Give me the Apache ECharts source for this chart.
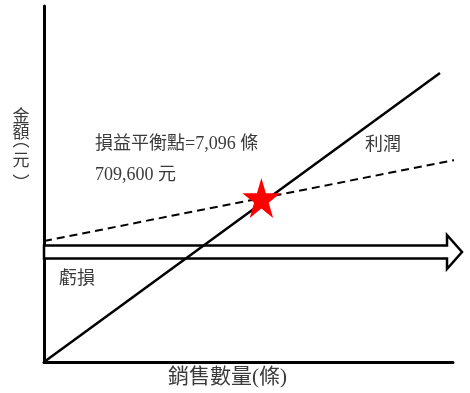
<!DOCTYPE html>
<html>
<head>
<meta charset="utf-8">
<script src="https://cdn.jsdelivr.net/npm/echarts@6/dist/echarts.min.js"></script>
<style>html,body{margin:0;padding:0;background:#fff}#c{width:470px;height:393px}</style>
</head>
<body>
<div id="c"></div>
<script>
// Data (quantity in 條, amount in 元)
const xRange = [0, 13350];
const yRange = [0, 1540000];
const revenueLine = [[0, 0], [12925, 1250000]];
const costLine = [[0, 523400], [13905, 886800]];
const fixedArrow = [[0, 476000, 13644]]; // [startX, y, tipX]
const breakEven = [[7096, 709600]];
const yNameChars = ['金', '額', '︵', '元', '︶'];
const texts = {
  xName: '銷售數量(條)',
  be1: '損益平衡點=7,096 條',
  be2: '709,600 元',
  profit: '利潤',
  loss: '虧損'
};

const chart = echarts.init(document.getElementById('c'));
const FONT = '"Liberation Serif", "Noto Sans CJK TC", serif';
const TXT = '#3a3a3a';
const starPath = 'path://M50,0 L61.2,34.5 L97.6,34.5 L68.2,55.9 L79.4,90.5 L50,69.1 L20.6,90.5 L31.8,55.9 L2.4,34.5 L38.8,34.5 Z';

function txt(text, x, y, size) {
  return { type: 'text', x: x, y: y, style: { text: text, fontSize: size, fontFamily: FONT, fill: TXT } };
}

// vertical axis name: characters stacked
const yNameCenters = [115.5, 132, 140, 159.5, 183];
const graphics = yNameChars.map(function (c, i) {
  return { type: 'text', x: 21, y: yNameCenters[i],
    style: { text: c, fontSize: 17, fontFamily: '"Noto Sans CJK TC"', fill: TXT, align: 'center', verticalAlign: 'middle' } };
});
graphics.push(
  txt(texts.xName, 168, 367, 21),
  txt(texts.be1, 95, 135, 18),
  txt(texts.be2, 95, 166, 18),
  txt(texts.profit, 365, 136, 18),
  txt(texts.loss, 59, 270, 18)
);

chart.setOption({
  animation: false,
  grid: { left: 44, top: 6, right: 17, bottom: 31 },
  xAxis: {
    type: 'value', min: xRange[0], max: xRange[1],
    axisLine: { show: true, lineStyle: { color: '#000', width: 3 } },
    axisTick: { show: false }, axisLabel: { show: false }, splitLine: { show: false }
  },
  yAxis: {
    type: 'value', min: yRange[0], max: yRange[1],
    axisLine: { show: true, lineStyle: { color: '#000', width: 3 } },
    axisTick: { show: false }, axisLabel: { show: false }, splitLine: { show: false }
  },
  series: [
    {
      type: 'custom', clip: false, z: 2,
      data: fixedArrow,
      renderItem: function (params, api) {
        const p0 = api.coord([api.value(0), api.value(1)]);
        const p1 = api.coord([api.value(2), api.value(1)]);
        const y = p0[1], h = 6.5, H = 17, L = 15;
        return {
          type: 'polygon',
          shape: { points: [
            [p0[0], y - h], [p1[0] - L, y - h], [p1[0] - L, y - H], [p1[0], y],
            [p1[0] - L, y + H], [p1[0] - L, y + h], [p0[0], y + h]
          ] },
          style: { fill: '#fff', stroke: '#000', lineWidth: 2.5 }
        };
      }
    },
    {
      type: 'line', data: costLine, clip: false, symbol: 'none', z: 3,
      lineStyle: { color: '#000', width: 2, type: [8, 5] }
    },
    {
      type: 'line', data: revenueLine, clip: false, symbol: 'none', z: 3,
      lineStyle: { color: '#000', width: 2.5 }
    },
    {
      type: 'scatter', data: breakEven, symbol: starPath, symbolSize: [38, 40],
      itemStyle: { color: '#ff0000', opacity: 1 }, z: 5
    }
  ],
  graphic: graphics
});
</script>
</body>
</html>
